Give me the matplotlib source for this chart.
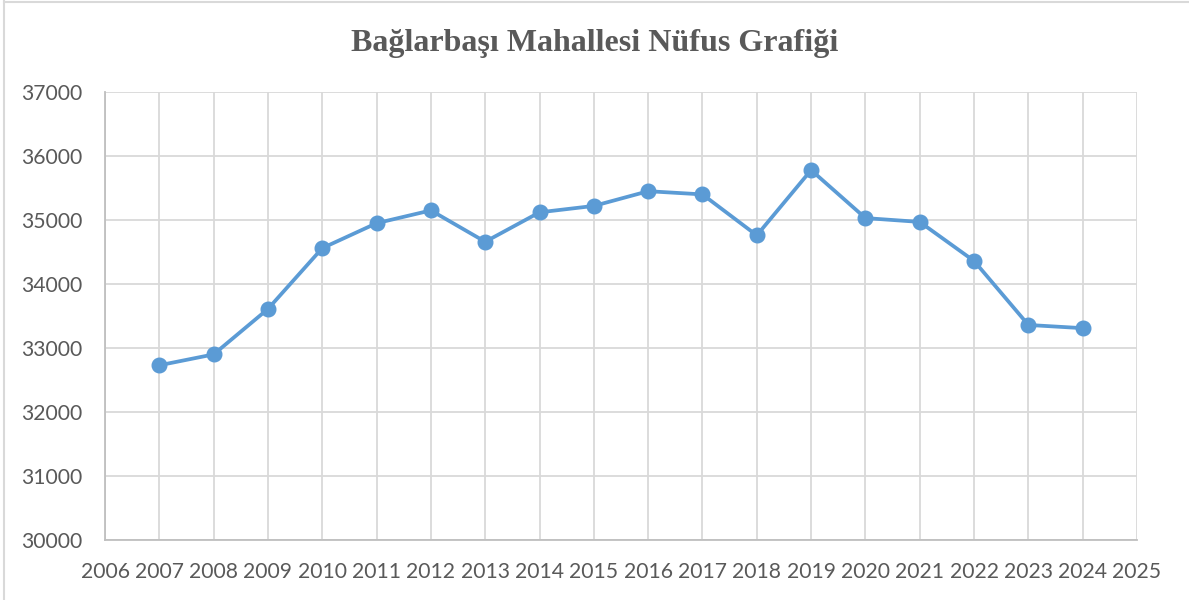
import matplotlib
matplotlib.use("Agg")
import matplotlib.pyplot as plt
from matplotlib.lines import Line2D

years = [2007, 2008, 2009, 2010, 2011, 2012, 2013, 2014, 2015,
         2016, 2017, 2018, 2019, 2020, 2021, 2022, 2023, 2024]
population = [32730, 32900, 33610, 34560, 34950, 35150, 34660, 35120, 35220,
              35450, 35400, 34760, 35780, 35030, 34970, 34360, 33360, 33310]
title = "Bağlarbaşı Mahallesi Nüfus Grafiği"

fig = plt.figure(figsize=(11.89, 6.0), dpi=100)
ax = fig.add_axes([105 / 1189, 1 - 540 / 600, (1137 - 105) / 1189, (540 - 92) / 600])

grid_c = "#D9D9D9"
ax.plot(years, population, color="#5B9BD5", linewidth=2.7,
        marker="o", markersize=10.5, zorder=3)

ax.set_xlim(2006, 2025)
ax.set_ylim(30000, 37000)
ax.set_xticks(range(2006, 2026))
ax.set_yticks(range(30000, 37001, 1000))
ax.grid(True, color=grid_c, linewidth=1.3)
ax.set_axisbelow(True)
for s in ["top", "right"]:
    ax.spines[s].set_visible(False)
for s in ["left", "bottom"]:
    ax.spines[s].set_color("#BFBFBF")
    ax.spines[s].set_linewidth(1.3)
ax.tick_params(length=0, labelsize=15.2, labelcolor="#595959")
for lab in ax.get_xticklabels() + ax.get_yticklabels():
    lab.set_fontfamily("Lato")
ax.tick_params(axis="x", pad=16)
ax.tick_params(axis="y", pad=16)

fig.text(0.5, 1 - 44 / 600, title, ha="center", va="center",
         fontsize=23, fontweight="bold", color="#595959",
         family="Liberation Serif")

# chart border
fig.add_artist(Line2D([4 / 1189, 4 / 1189], [0, 1 - 1 / 600], color=grid_c, linewidth=1.5))
fig.add_artist(Line2D([4 / 1189, 1], [1 - 1.5 / 600, 1 - 1.5 / 600], color=grid_c, linewidth=1.5))

fig.savefig("out.png", dpi=100)
